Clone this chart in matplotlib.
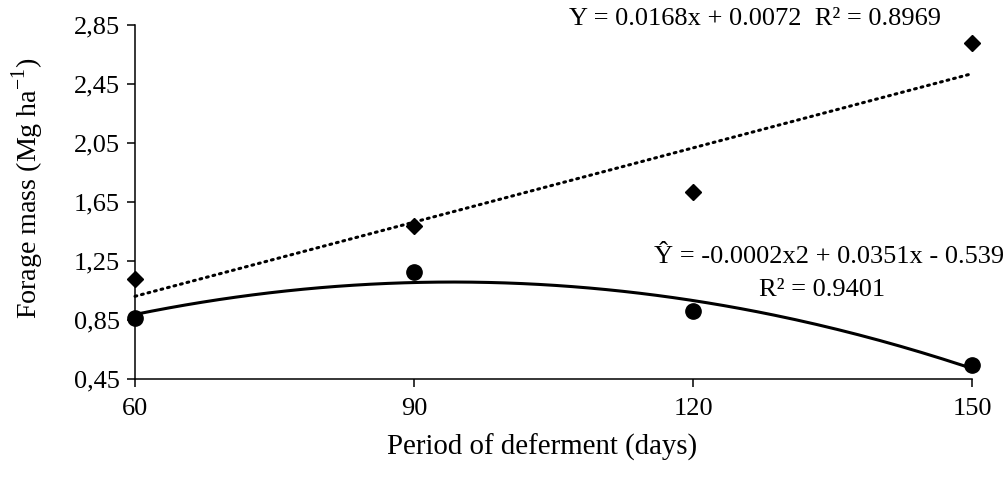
import numpy as np
import matplotlib
matplotlib.use("Agg")
import matplotlib.pyplot as plt

days = [60, 90, 120, 150]
series_diamond = [1.128, 1.487, 1.718, 2.728]
series_circle = [0.864, 1.175, 0.911, 0.545]
yticks = [0.45, 0.85, 1.25, 1.65, 2.05, 2.45, 2.85]
ytick_labels = ["0,45", "0,85", "1,25", "1,65", "2,05", "2,45", "2,85"]
eq_linear = "Y = 0.0168x + 0.0072  R\u00b2 = 0.8969"
eq_quad = "\u0176 = -0.0002x2 + 0.0351x - 0.539"
eq_quad_r2 = "R\u00b2 = 0.9401"

plt.rcParams['font.family'] = ['Liberation Serif', 'DejaVu Serif']
plt.rcParams['mathtext.fontset'] = 'custom'
plt.rcParams['mathtext.rm'] = 'Liberation Serif'
fig = plt.figure(figsize=(10.08, 4.78), dpi=100)
ax = fig.add_axes([135/1008, 1-379/478, (972-135)/1008, (379-25)/478])

xs = np.linspace(60, 150, 200)
p1 = np.polyfit(days, series_diamond, 1)
p2 = np.polyfit(days, series_circle, 2)
ax.plot(xs, np.polyval(p1, xs), color='black', lw=2.2, linestyle=(0, (0.6, 1.6)),
        dash_capstyle='round', clip_on=False)
ax.plot(xs, np.polyval(p2, xs), color='black', lw=2.2, clip_on=False)
ax.plot(days, series_diamond, linestyle='none', marker='D', ms=8.5, color='black',
        clip_on=False, zorder=5)
ax.plot(days, series_circle, linestyle='none', marker='o', ms=11, color='black',
        clip_on=False, zorder=5)

ax.set_xlim(60, 150)
ax.set_ylim(0.45, 2.85)
ax.set_xticks(days)
ax.set_xticklabels([str(d) for d in days])
ax.set_yticks(yticks)
ax.set_yticklabels(ytick_labels)
for s in ['top', 'right']:
    ax.spines[s].set_visible(False)
for s in ['left', 'bottom']:
    ax.spines[s].set_linewidth(1.1)
ax.tick_params(axis='both', direction='out', length=6, width=1.1, labelsize=19, pad=5)
ax.tick_params(axis='x', pad=8)

fig.text(542/1008, 1-447/478, "Period of deferment (days)", fontsize=20.8,
         ha='center', va='center')
fig.text(28/1008, 1-188/478, "Forage mass (Mg ha$^{\\mathregular{-1}}$)", fontsize=20.2,
         ha='center', va='center', rotation=90)

ax.text(126.7, 2.89, eq_linear, fontsize=19, ha='center', va='center', clip_on=False)
ax.text(153.5, 1.277, eq_quad, fontsize=19, ha='right', va='center', clip_on=False)
ax.text(133.9, 1.053, eq_quad_r2, fontsize=19, ha='center', va='center', clip_on=False)

fig.savefig("out.png", dpi=100)
